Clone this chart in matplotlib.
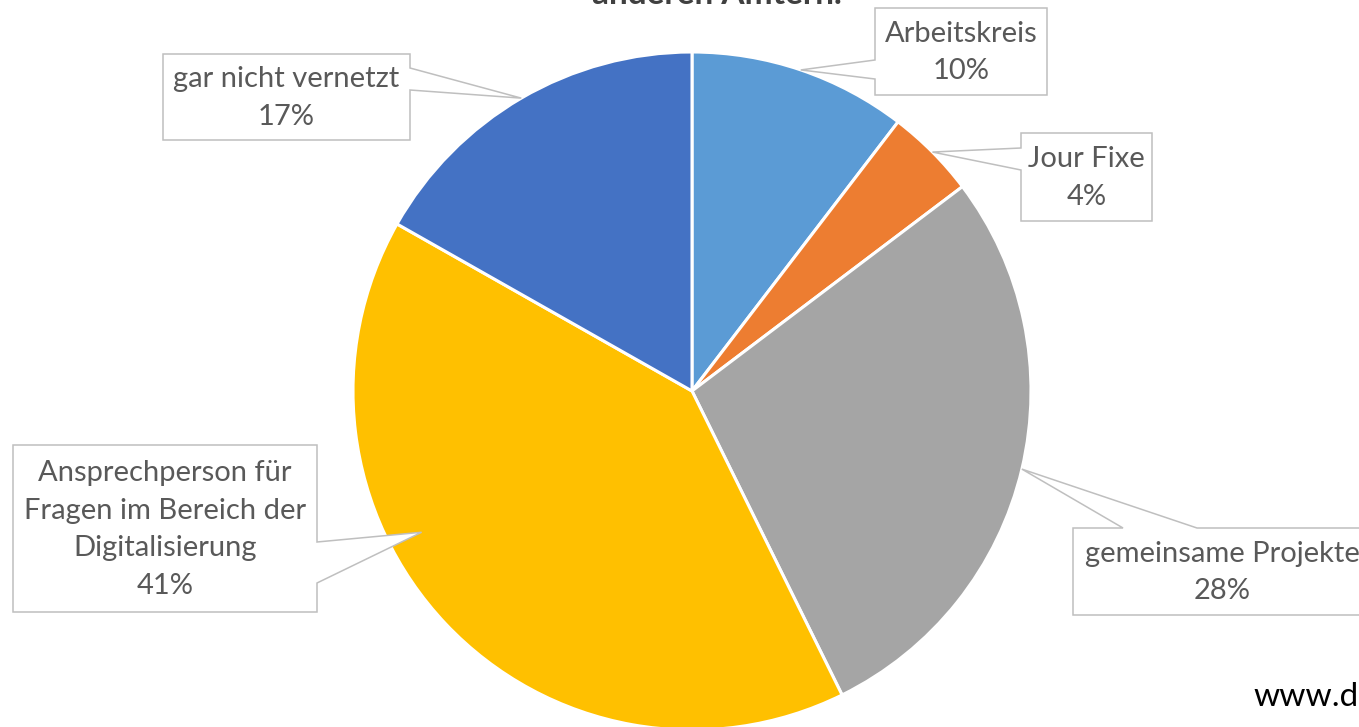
import matplotlib
matplotlib.use("Agg")
import matplotlib.pyplot as plt
from matplotlib.patches import Polygon
import numpy as np

# ---- data ----
categories = ["Arbeitskreis", "Jour Fixe", "gemeinsame Projekte",
              "Ansprechperson für\nFragen im Bereich der\nDigitalisierung",
              "gar nicht vernetzt"]
values = [10.4, 4.3, 28.0, 40.5, 16.8]
colors = ["#5B9BD5", "#ED7D31", "#A5A5A5", "#FFC000", "#4472C4"]
title_text = "anderen Ämtern."
source_text = "www.d"

W, H = 1359, 727
fig = plt.figure(figsize=(W / 100, H / 100), dpi=100)
ax = fig.add_axes([0, 0, 1, 1])

def P(x, y):
    """pixel (top-left origin) -> data coords"""
    return (x, H - y)

cx, cy, R = 692, 391, 339
wedges, _ = ax.pie(values, colors=colors, startangle=90, counterclock=False,
                   center=P(cx, cy), radius=R,
                   wedgeprops=dict(edgecolor="white", linewidth=2.2))
ax.set_xlim(0, W)
ax.set_ylim(0, H)
ax.set_aspect("equal")
ax.axis("off")

# callout layout (pixel coords): box, side of pointer, pointer base, tip (angle offset, radius frac)
layout = [
    dict(box=(875, 8, 1047, 95), side="left", base=(60, 79), off=0, frac=1.0),
    dict(box=(1021, 133, 1152, 221), side="left", base=(148, 170), off=0, frac=1.0),
    dict(box=(1073, 528, 1371, 615), side="top", base=(1123, 1197), off=0, frac=1.0),
    dict(box=(13, 445, 317, 612), side="right", base=(542, 583), off=-15.8, frac=0.9),
    dict(box=(163, 54, 410, 140), side="right", base=(68, 90), off=0, frac=1.0),
]

def pct(v):
    return f"{int(v + 0.5)}%"

for w, cat, v, lay in zip(wedges, categories, values, layout):
    mid = np.deg2rad((w.theta1 + w.theta2) / 2 + lay["off"])
    tcx, tcy = w.center
    tip = (tcx + R * lay["frac"] * np.cos(mid), tcy + R * lay["frac"] * np.sin(mid))
    x0, y0, x1, y1 = lay["box"]
    a, b = lay["base"]
    if lay["side"] == "left":
        pts = [P(x0, y0), P(x1, y0), P(x1, y1), P(x0, y1), P(x0, b), tip, P(x0, a)]
    elif lay["side"] == "right":
        pts = [P(x0, y0), P(x1, y0), P(x1, a), tip, P(x1, b), P(x1, y1), P(x0, y1)]
    else:
        pts = [P(x0, y0), P(a, y0), tip, P(b, y0), P(x1, y0), P(x1, y1), P(x0, y1)]
    ax.add_patch(Polygon(pts, closed=True, facecolor="white", edgecolor="#BFBFBF",
                         linewidth=1.1, zorder=3))
    ax.text(*P((x0 + x1) / 2, (y0 + y1) / 2 + 1), f"{cat}\n{pct(v)}",
            ha="center", va="center", multialignment="center",
            fontsize=21, color="#595959", family="Lato", linespacing=1.55, zorder=4)

# title (cut off at top in the reference)
ax.text(*P(717, 4), title_text, ha="center", va="baseline", fontsize=24,
        fontweight="bold", color="#404040", family="Lato", zorder=5)

# source text (cut off at right)
ax.text(*P(1253, 706), source_text, ha="left", va="baseline", fontsize=24,
        color="black", family="Lato", zorder=5)

fig.savefig("out.png", dpi=100)
